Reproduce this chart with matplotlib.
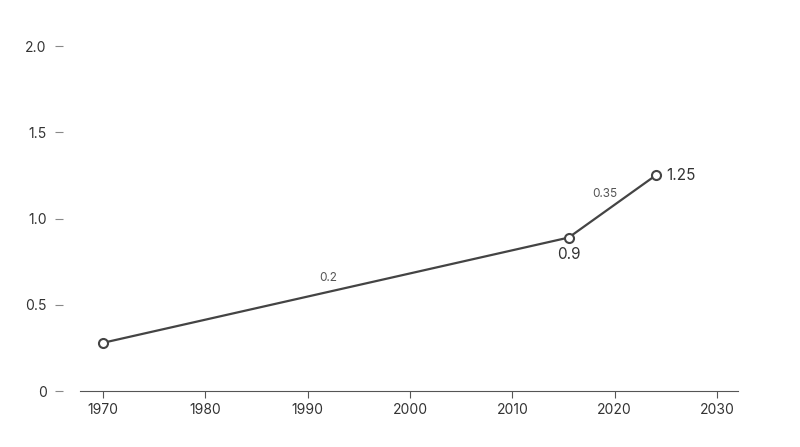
import matplotlib
matplotlib.use("Agg")
import matplotlib.pyplot as plt

years = [1970, 2015.5, 2024]
values = [0.28, 0.89, 1.25]
point_labels = ["", "0.9", "1.25"]
seg_labels = ["0.2", "0.35"]
xticks = [1970, 1980, 1990, 2000, 2010, 2020, 2030]
yticks = [0, 0.5, 1.0, 1.5, 2.0]
ytick_labels = ["0", "0.5", "1.0", "1.5", "2.0"]

plt.rcParams['font.family'] = ['Inter', 'DejaVu Sans']
fig = plt.figure(figsize=(8, 4.47), dpi=100)
ax = fig.add_axes([0.1, 0.125, 0.8225, 0.772])
ax.set_xlim(1967.75, 2032.05)
ax.set_ylim(0, 2.0)
col = "#444444"
ax.plot(years, values, color=col, lw=1.6, marker="o", ms=6.5, mfc="white", mec=col, mew=1.5, zorder=3, clip_on=False)
ax.text(years[1], values[1] - 0.1, point_labels[1], ha="center", va="center", fontsize=11, color="#333333")
ax.text(years[2] + 1, values[2], point_labels[2], ha="left", va="center", fontsize=11, color="#333333")
ax.text(1992, 0.655, seg_labels[0], ha="center", va="center", fontsize=8.5, color="#555555")
ax.text(2019, 1.145, seg_labels[1], ha="center", va="center", fontsize=8.5, color="#555555")
for s in ["top", "right", "left"]:
    ax.spines[s].set_visible(False)
ax.spines["bottom"].set_color("#555555")
ax.set_xticks(xticks)
ax.set_yticks(yticks)
ax.set_yticklabels(ytick_labels)
ax.tick_params(axis="x", colors="#555555", labelcolor="#333333", labelsize=10, length=5)
ax.tick_params(axis="y", colors="#888888", labelcolor="#333333", labelsize=10, length=6, pad=4, direction="in")
for t in ax.yaxis.get_major_ticks():
    t.tick1line.set_transform(t.tick1line.get_transform() + matplotlib.transforms.ScaledTranslation(12/100, 0, fig.dpi_scale_trans) if False else t.tick1line.get_transform())
ax.tick_params(axis="y", direction="out", length=6, pad=6)
ax.spines["left"].set_position(("outward", 12))
fig.savefig("out.png", dpi=100)
